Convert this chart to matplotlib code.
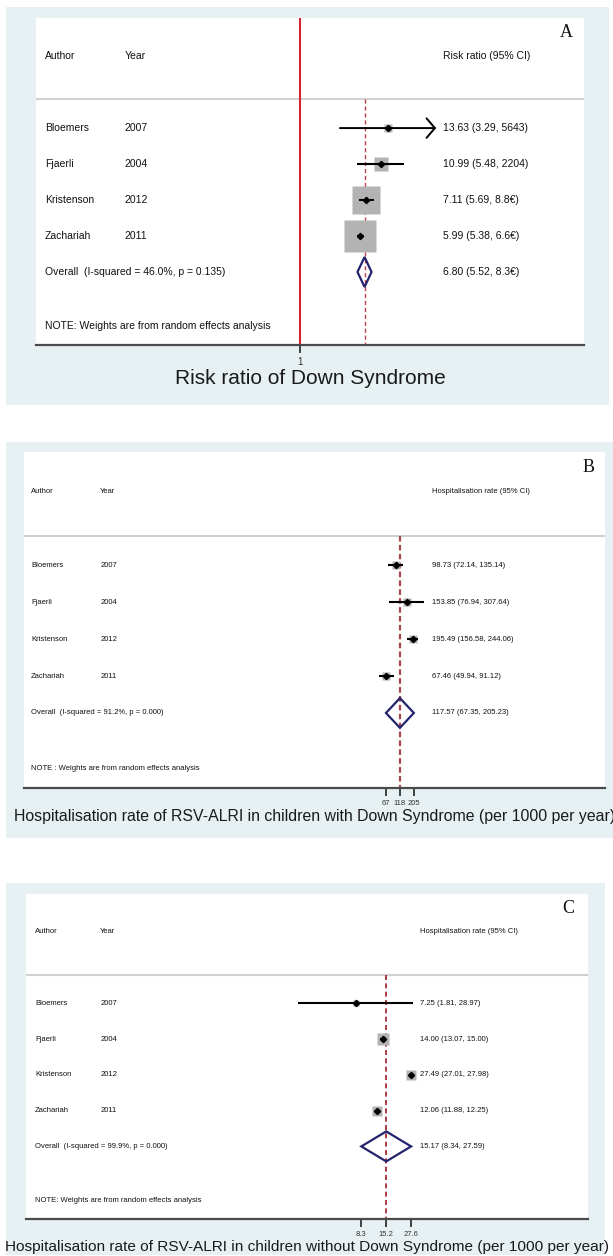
import numpy as np
import matplotlib.pyplot as plt
from matplotlib.patches import Rectangle, Polygon
from matplotlib.ticker import NullLocator

plt.rcParams['font.family'] = ['Liberation Sans', 'DejaVu Sans']

W, H = 613, 1256

authors = ["Bloemers", "Fjaerli", "Kristenson", "Zachariah"]
years = ["2007", "2004", "2012", "2011"]

# panel A: risk ratio
rr_est = [13.63, 10.99, 7.11, 5.99]
rr_lo = [3.29, 5.48, 5.69, 5.38]
rr_hi = [56.43, 22.04, 8.88, 6.66]
rr_weight = [2.5, 8.6, 37.0, 51.9]
rr_overall = [6.80, 5.52, 8.36]
rr_text = ["13.63 (3.29, 5643)", "10.99 (5.48, 2204)", "7.11 (5.69, 8.8€)",
           "5.99 (5.38, 6.6€)", "6.80 (5.52, 8.3€)"]
rr_isq = "Overall  (I-squared = 46.0%, p = 0.135)"

# panel B: with Down syndrome
ds_est = [98.73, 153.85, 195.49, 67.46]
ds_lo = [72.14, 76.94, 156.58, 49.94]
ds_hi = [135.14, 307.64, 244.06, 91.12]
ds_weight = [25.6, 20.0, 27.5, 26.9]
ds_overall = [117.57, 67.35, 205.23]
ds_ticks = ["67", "118", "205"]
ds_isq = "Overall  (I-squared = 91.2%, p = 0.000)"

# panel C: without Down syndrome
nd_est = [7.25, 14.00, 27.49, 12.06]
nd_lo = [1.81, 13.07, 27.01, 11.88]
nd_hi = [28.97, 15.00, 27.98, 12.25]
nd_weight = [10.1, 33.9, 28.0, 28.0]
nd_overall = [15.17, 8.34, 27.59]
nd_ticks = ["8.3", "15.2", "27.6"]
nd_isq = "Overall  (I-squared = 99.9%, p = 0.000)"


def fmt(e, l, h):
    return f"{e:.2f} ({l:.2f}, {h:.2f})"


def px_rect(left, top, right, bottom):
    return [left / W, 1 - bottom / H, (right - left) / W, (bottom - top) / H]


fig = plt.figure(figsize=(W / 100, H / 100), dpi=100)
fig.patch.set_facecolor("white")


def panel(bg, box, xlim, letter, cols, est, lo, hi, weight, overall, texts,
          isq, ci_head, note, ticks, tick_labels, xlabel, fs, box_k, dash_kw,
          row_px, lab_off, tick_fs, xlabel_fs, arrow=False, refline=False):
    l, t, r, b = bg
    fig.patches.append(Rectangle((l / W, 1 - b / H), (r - l) / W, (b - t) / H,
                                 transform=fig.transFigure, facecolor="#e7f1f3",
                                 edgecolor="none", zorder=-5))
    ax = fig.add_axes(px_rect(*box))
    ax.set_facecolor("white")
    ax.set_xscale("log")
    ax.set_xlim(*xlim)
    ybot, ytop = 6.03, -3.06
    ax.set_ylim(ybot, ytop)
    for s in ["top", "left", "right"]:
        ax.spines[s].set_visible(False)
    ax.spines["bottom"].set_color("#4a4a4a")
    ax.spines["bottom"].set_linewidth(1.6)
    ax.set_yticks([])
    ax.xaxis.set_minor_locator(NullLocator())
    ax.set_xticks(ticks)
    ax.set_xticklabels(tick_labels, fontsize=tick_fs, color="#333333")
    ax.tick_params(axis="x", length=6, width=1.3, color="#333333", pad=2.5)

    ax.axhline(-0.8, color="#d0d0d0", lw=1.5, zorder=1)
    if refline:
        ax.axvline(1, color="#d4232e", lw=1.5, zorder=1)
    ax.vlines(overall[0], -0.8, ybot, zorder=1, **dash_kw)

    rows = np.arange(len(est))
    for i in rows:
        side = box_k * np.sqrt(weight[i]) * 0.72
        ax.plot(est[i], i, marker="s", ms=side, mfc="#b3b3b3", mec="none",
                zorder=2)
        if arrow and i == 0:
            ax.annotate("", xy=(hi[i], i), xytext=(lo[i], i),
                        arrowprops=dict(arrowstyle="->,head_length=0.6,head_width=0.7",
                                        lw=1.4, color="black", shrinkA=0,
                                        shrinkB=0), zorder=3)
        else:
            ax.plot([lo[i], hi[i]], [i, i], color="black", lw=1.5, zorder=3,
                    solid_capstyle="butt")
        ax.plot(est[i], i, marker="D", ms=3.2, color="black", zorder=4)

    e, olo, ohi = overall
    hh = 15.0 / row_px
    k = len(est)
    ax.add_patch(Polygon([(olo, k), (e, k - hh), (ohi, k), (e, k + hh)],
                         closed=True, fill=False, edgecolor="#23236e", lw=1.6,
                         zorder=4))

    tr = ax.get_yaxis_transform()
    xa, xy_, xc, xl = cols
    txt = dict(fontsize=fs, va="center", color="#111111")
    ax.text(xa, -2, "Author", transform=tr, **txt)
    ax.text(xy_, -2, "Year", transform=tr, **txt)
    ax.text(xc, -2, ci_head, transform=tr, **txt)
    for i in rows:
        ax.text(xa, i, authors[i], transform=tr, **txt)
        ax.text(xy_, i, years[i], transform=tr, **txt)
        ax.text(xc, i, texts[i], transform=tr, **txt)
    ax.text(xa, k, isq, transform=tr, **txt)
    ax.text(xc, k, texts[k], transform=tr, **txt)
    ax.text(xa, 5.5, note, transform=tr, **txt)
    ax.text(xl, -2.65, letter, transform=tr, fontsize=13, ha="center",
            va="center", family="Liberation Serif", color="#111111")

    ax.set_xlabel(xlabel, fontsize=xlabel_fs, color="#1a1a1a",
                  va="center")
    ax.xaxis.set_label_coords(0.5, -lab_off / (box[3] - box[1]))
    return ax


# A
panel(bg=(6, 7, 609, 405), box=(36, 18, 584, 345),
      xlim=(np.exp(-7.79), np.exp(8.40)), letter="A",
      cols=(0.016, 0.162, 0.742, 0.968),
      est=rr_est, lo=rr_lo, hi=rr_hi, weight=rr_weight, overall=rr_overall,
      texts=rr_text, isq=rr_isq, ci_head="Risk ratio (95% CI)",
      note="NOTE: Weights are from random effects analysis",
      ticks=[1], tick_labels=["1"],
      xlabel="Risk ratio of Down Syndrome", fs=7.5, box_k=4.44,
      dash_kw=dict(colors="#c0404a", lw=1.0, linestyles=(0, (3, 2))),
      row_px=36.0, lab_off=33, tick_fs=7, xlabel_fs=15,
      arrow=True, refline=True)

# B
panel(bg=(6, 442, 613, 838), box=(24, 452, 605, 788),
      xlim=(np.exp(-10.27), np.exp(12.97)), letter="B",
      cols=(0.012, 0.131, 0.702, 0.972),
      est=ds_est, lo=ds_lo, hi=ds_hi, weight=ds_weight, overall=ds_overall,
      texts=[fmt(*v) for v in zip(ds_est, ds_lo, ds_hi)] + [fmt(*ds_overall)],
      isq=ds_isq, ci_head="Hospitalisation rate (95% CI)",
      note="NOTE : Weights are from random effects analysis",
      ticks=[67.35, 117.57, 205.23], tick_labels=ds_ticks,
      xlabel="Hospitalisation rate of RSV-ALRI in children with Down Syndrome (per 1000 per year)",
      fs=5.5, box_k=1.6,
      dash_kw=dict(colors="#a8474f", lw=1.6, linestyles=(0, (2.5, 1.5))),
      row_px=37.25, lab_off=29, tick_fs=5.5, xlabel_fs=11.4)

# C
panel(bg=(6, 883, 605, 1255), box=(26, 894, 588, 1219),
      xlim=(np.exp(-5.94), np.exp(7.57)), letter="C",
      cols=(0.016, 0.132, 0.701, 0.964),
      est=nd_est, lo=nd_lo, hi=nd_hi, weight=nd_weight, overall=nd_overall,
      texts=[fmt(*v) for v in zip(nd_est, nd_lo, nd_hi)] + [fmt(*nd_overall)],
      isq=nd_isq, ci_head="Hospitalisation rate (95% CI)",
      note="NOTE: Weights are from random effects analysis",
      ticks=[8.34, 15.17, 27.59], tick_labels=nd_ticks,
      xlabel="Hospitalisation rate of RSV-ALRI in children without Down Syndrome (per 1000 per year)",
      fs=5.5, box_k=1.89,
      dash_kw=dict(colors="#a01c22", lw=1.2, linestyles=(0, (3, 2))),
      row_px=35.75, lab_off=28, tick_fs=5.5, xlabel_fs=11.1)

fig.savefig("out.png", dpi=100)
